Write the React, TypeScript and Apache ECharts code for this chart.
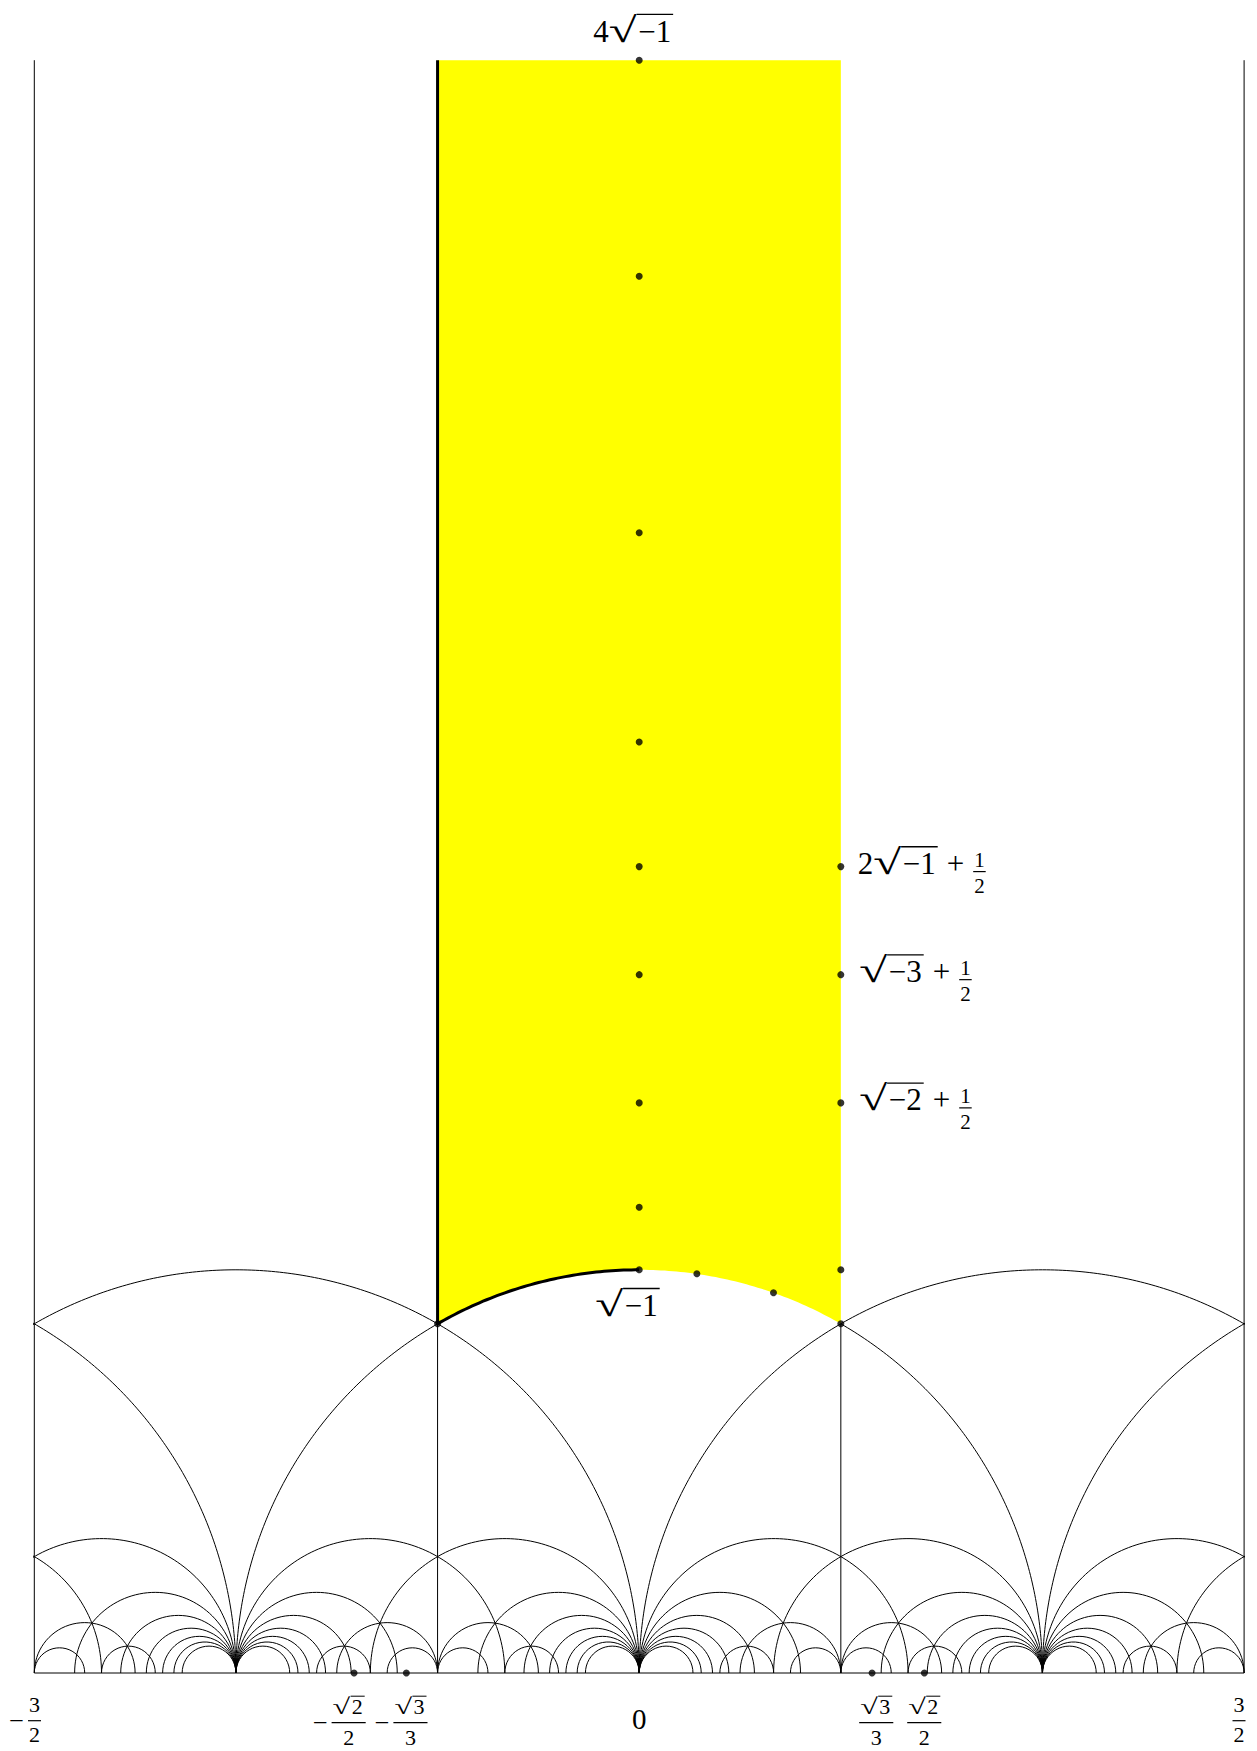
import React, { useEffect, useRef } from "react";
import * as echarts from "echarts";

const PAGE_W = 1257;
const PAGE_H = 1751;

// plotting window (upper half-plane)
const X_MIN = -1.5;
const X_MAX = 1.5;
const Y_MIN = 0;
const Y_MAX = 4;

// tessellation geodesics, given by their end points on the real axis
const INTEGER_CUSPS = [-2, -1, 0, 1, 2];
const INTEGER_CUSP_SPANS = [2, 2 / 3, 2 / 5, 2 / 7, 2 / 9, 2 / 11, 2 / 13, 2 / 15];
const HALF_CUSPS = [-1.5, -0.5, 0.5, 1.5];
const HALF_CUSP_SPANS = [1 / 4, 1 / 8];
const PERIOD_SHIFTS = [-2, -1, 0, 1];
const SMALL_ARCS = [
  [1 / 3, 1 / 5],
  [2 / 3, 4 / 5],
];
// vertical geodesics: [x, top]
const VERTICAL_LINES = [
  [-1.5, 4],
  [-0.5, 0.866],
  [0.5, 0.866],
  [1.5, 4],
];

// marked points
const IMAG_AXIS_DOTS = [4, 3.464, 2.828, 2.309, 2, 1.732, 1.414, 1.155, 1];
const HALF_LINE_DOTS = [2, 1.732, 1.414, 1, 0.866];
const ARC_DOTS = [
  [0.143, 0.99],
  [0.333, 0.943],
];
const CORNER_DOTS = [[-0.5, 0.866]];
const REAL_AXIS_DOTS = [-0.7071, -0.5774, 0.5774, 0.7071];

// tick-like labels under the real axis
const AXIS_LABELS = [
  { x: -1.5, neg: true, num: "3", den: "2", root: false, dx: 0.2 },
  { x: -0.7071, neg: true, num: "2", den: "2", root: true, dx: -5.4 },
  { x: -0.5774, neg: true, num: "3", den: "3", root: true, dx: 4.1 },
  { x: 0.5774, neg: false, num: "3", den: "3", root: true, dx: 4.2 },
  { x: 0.7071, neg: false, num: "2", den: "2", root: true, dx: -0.1 },
  { x: 1.5, neg: false, num: "3", den: "2", root: false, dx: -5.1 },
];

const FONT_FAMILY = "Liberation Serif";

// ---------- text measuring / math layout ----------
let measureCtx: CanvasRenderingContext2D | null = null;
function measure(s: string, size: number): TextMetrics {
  if (!measureCtx) measureCtx = document.createElement("canvas").getContext("2d");
  measureCtx!.font = `${size}px "${FONT_FAMILY}"`;
  return measureCtx!.measureText(s);
}
function centralOffset(size: number): number {
  const t = measure("0", size);
  const a = (t as any).fontBoundingBoxAscent;
  const d = (t as any).fontBoundingBoxDescent;
  if (a == null || isNaN(a)) return 0.3375 * size;
  return (a - d) / 2;
}

function textEl(s: string, x: number, b: number, size: number, align = "left", scaleX = 1) {
  return {
    type: "text",
    x,
    y: b - centralOffset(size),
    scaleX,
    silent: true,
    z: 100,
    style: {
      text: s,
      fontSize: size,
      fontFamily: FONT_FAMILY,
      fontWeight: "normal",
      fill: "#000",
      align,
      textAlign: align,
      verticalAlign: "middle",
      textVerticalAlign: "middle",
    },
  };
}
function lineEl(x1: number, y1: number, x2: number, y2: number, w: number) {
  return {
    type: "line",
    silent: true,
    z: 100,
    shape: { x1, y1, x2, y2 },
    style: { stroke: "#000", lineWidth: w },
  };
}

type MNode =
  | { k: "t"; s: string; size: number }
  | { k: "gap"; w: number }
  | { k: "sqrt"; s: string; size: number; rise: number; radW: number }
  | {
      k: "frac";
      num: MNode[];
      den: MNode[];
      barUp: number;
      numDrop: number;
      denDrop: number;
      pad: number;
    };

const T = (s: string, size: number): MNode => ({ k: "t", s, size });
const GAP = (w: number): MNode => ({ k: "gap", w });
const SQRT = (s: string, size: number, rise = 0.92, radW = 0.9): MNode => ({ k: "sqrt", s, size, rise, radW });

function radGeom(size: number, rise: number, radW: number) {
  const a = measure("√", size).actualBoundingBoxAscent || 0.75 * size;
  const rs = (rise * size * size) / a;
  const m = measure("√", rs);
  const sx = (radW * size) / m.width;
  return { rs, m, sx, w: radW * size };
}

function nodeWidth(n: MNode): number {
  if (n.k === "t") return measure(n.s, n.size).width;
  if (n.k === "gap") return n.w;
  if (n.k === "sqrt") {
    const g = radGeom(n.size, n.rise, n.radW);
    return g.w + 1.5 + measure(n.s, n.size).width + 2;
  }
  return Math.max(rowWidth(n.num), rowWidth(n.den)) + 2 * n.pad;
}
function rowWidth(nodes: MNode[]) {
  return nodes.reduce((acc, n) => acc + nodeWidth(n), 0);
}
function drawNode(n: MNode, x: number, b: number, out: any[]) {
  if (n.k === "t") {
    out.push(textEl(n.s, x, b, n.size));
  } else if (n.k === "sqrt") {
    const g = radGeom(n.size, n.rise, n.radW);
    out.push(textEl("√", x, b, g.rs, "left", g.sx));
    const lw = Math.max(1, n.size * 0.045);
    const top = b - g.m.actualBoundingBoxAscent + lw / 2;
    const rx = x + g.w + 1.5;
    out.push(textEl(n.s, rx, b, n.size));
    out.push(
      lineEl(x + g.m.actualBoundingBoxRight * g.sx - lw * 0.7, top, rx + measure(n.s, n.size).width + 2, top, lw)
    );
  } else if (n.k === "frac") {
    const w = nodeWidth(n);
    const barY = b - n.barUp;
    out.push(lineEl(x, barY, x + w, barY, 1.2));
    const wn = rowWidth(n.num);
    const wd = rowWidth(n.den);
    drawRow(n.num, x + (w - wn) / 2, barY - n.numDrop, out);
    drawRow(n.den, x + (w - wd) / 2, barY + n.denDrop, out);
  }
}
function drawRow(nodes: MNode[], x: number, b: number, out: any[]) {
  let cx = x;
  nodes.forEach((n) => {
    drawNode(n, cx, b, out);
    cx += nodeWidth(n);
  });
}

const MAIN = 31;
const HALF_FRAC = (): MNode => ({
  k: "frac",
  num: [T("1", 21)],
  den: [T("2", 21)],
  barUp: 2.5,
  numDrop: 5,
  denDrop: 21.5,
  pad: 1,
});

const POINT_LABELS: { at: number[]; align: string; dx: number; dy: number; nodes: () => MNode[] }[] = [
  { at: [0, 4], align: "center", dx: -6, dy: -18.5, nodes: () => [T("4", MAIN), SQRT("−1", MAIN)] },
  { at: [0, 1], align: "center", dx: -11.7, dy: 46, nodes: () => [SQRT("−1", MAIN)] },
  {
    at: [0.5, 2],
    align: "left",
    dx: 17,
    dy: 7.5,
    nodes: () => [T("2", MAIN), SQRT("−1", MAIN), GAP(9), T("+", MAIN), GAP(9), HALF_FRAC()],
  },
  {
    at: [0.5, 1.732],
    align: "left",
    dx: 18.5,
    dy: 7.5,
    nodes: () => [SQRT("−3", MAIN), GAP(9), T("+", MAIN), GAP(9), HALF_FRAC()],
  },
  {
    at: [0.5, 1.414],
    align: "left",
    dx: 18.5,
    dy: 7.5,
    nodes: () => [SQRT("−2", MAIN), GAP(9), T("+", MAIN), GAP(9), HALF_FRAC()],
  },
];

function buildLabels(toPx: (p: number[]) => number[]) {
  const out: any[] = [];
  POINT_LABELS.forEach((L) => {
    const [ax, ay] = toPx(L.at);
    const nodes = L.nodes();
    const w = rowWidth(nodes);
    const x = L.align === "center" ? ax + L.dx - w / 2 : ax + L.dx;
    drawRow(nodes, x, ay + L.dy, out);
  });
  // real-axis labels
  AXIS_LABELS.forEach((L) => {
    const [ax, ay] = toPx([L.x, 0]);
    const size = 22;
    const frac: MNode = {
      k: "frac",
      num: [L.root ? SQRT(L.num, size, 0.83, 0.8) : T(L.num, size)],
      den: [T(L.den, size)],
      barUp: 0,
      numDrop: 9,
      denDrop: L.root ? 22.3 : 21,
      pad: 1,
    };
    const w = nodeWidth(frac);
    const barY = ay + (L.root ? 49.7 : 47.7);
    const left = ax + L.dx - w / 2;
    drawNode(frac, left, barY, out);
    if (L.neg) {
      const mm = measure("−", size);
      const b = barY + (mm.actualBoundingBoxAscent - mm.actualBoundingBoxDescent) / 2;
      out.push(textEl("−", left - 4, b, size, "right", 1.2));
    }
  });
  const [zx, zy] = toPx([0, 0]);
  out.push(textEl("0", zx - measure("0", 29).width / 2, zy + 46 + 0.338 * 29, 29));
  return out;
}

// ---------- geometry of the picture ----------
type Arc = { c: number; r: number; t0: number; t1: number };

function buildArcs(): Arc[] {
  const arcs: Arc[] = [];
  const seen = new Set<string>();
  const addGeodesic = (a: number, b: number) => {
    const lo = Math.min(a, b);
    const hi = Math.max(a, b);
    if (hi <= X_MIN + 1e-9 || lo >= X_MAX - 1e-9) return;
    const c = (lo + hi) / 2;
    const r = (hi - lo) / 2;
    const key = c.toFixed(6) + "_" + r.toFixed(6);
    if (seen.has(key)) return;
    seen.add(key);
    if (Math.abs(c) < 1e-9 && Math.abs(r - 1) < 1e-9) {
      // unit circle: the part bounding the fundamental domain is drawn separately
      arcs.push({ c, r, t0: 0, t1: Math.PI / 3 });
      arcs.push({ c, r, t0: (2 * Math.PI) / 3, t1: Math.PI });
    } else {
      arcs.push({ c, r, t0: 0, t1: Math.PI });
    }
  };
  INTEGER_CUSPS.forEach((n) =>
    INTEGER_CUSP_SPANS.forEach((d) => {
      addGeodesic(n, n + d);
      addGeodesic(n, n - d);
    })
  );
  HALF_CUSPS.forEach((h) =>
    HALF_CUSP_SPANS.forEach((d) => {
      addGeodesic(h, h + d);
      addGeodesic(h, h - d);
    })
  );
  PERIOD_SHIFTS.forEach((s) => SMALL_ARCS.forEach(([a, b]) => addGeodesic(s + a, s + b)));
  return arcs;
}

function sampleArc(c: number, r: number, t0: number, t1: number): number[][] {
  const n = Math.max(24, Math.ceil((r * 320 * Math.abs(t1 - t0)) / Math.PI));
  const pts: number[][] = [];
  for (let i = 0; i <= n; i++) {
    const t = t0 + ((t1 - t0) * i) / n;
    pts.push([c + r * Math.cos(t), r * Math.sin(t)]);
  }
  return pts;
}

function buildOption() {
  const lineBase = {
    type: "line",
    symbol: "none",
    showSymbol: false,
    silent: true,
    animation: false,
  };

  const arcSeries = buildArcs().map((a) => ({
    ...lineBase,
    clip: true,
    z: 3,
    lineStyle: { color: "#000", width: 1 },
    data: sampleArc(a.c, a.r, a.t0, a.t1),
  }));

  const verticalSeries = VERTICAL_LINES.map(([x, top]) => ({
    ...lineBase,
    clip: false,
    z: 3,
    lineStyle: { color: "#000", width: 1 },
    data: [
      [x, Y_MIN],
      [x, top],
    ],
  }));

  const baseline = {
    ...lineBase,
    clip: false,
    z: 3,
    lineStyle: { color: "#000", width: 1 },
    data: [
      [X_MIN, 0],
      [X_MAX, 0],
    ],
  };

  const domain = [
    [-0.5, Y_MAX],
    ...sampleArc(0, 1, (2 * Math.PI) / 3, Math.PI / 3),
    [0.5, Y_MAX],
  ];

  const yellow = {
    type: "custom",
    coordinateSystem: "cartesian2d",
    silent: true,
    clip: false,
    z: 1,
    data: [[0, 0]],
    renderItem: (_params: any, api: any) => ({
      type: "polygon",
      shape: { points: domain.map((p) => api.coord(p)) },
      style: { fill: "#ffff00", stroke: "none" },
    }),
  };

  const boundary = {
    ...lineBase,
    clip: false,
    z: 5,
    lineStyle: { color: "#000", width: 3, cap: "butt", join: "round" },
    data: [[-0.5, Y_MAX], ...sampleArc(0, 1, (2 * Math.PI) / 3, Math.PI / 2)],
  };

  const dots = [
    ...IMAG_AXIS_DOTS.map((y) => [0, y]),
    ...HALF_LINE_DOTS.map((y) => [0.5, y]),
    ...ARC_DOTS,
    ...CORNER_DOTS,
    ...REAL_AXIS_DOTS.map((x) => [x, 0]),
  ];

  const dotSeries = {
    type: "scatter",
    silent: true,
    clip: false,
    z: 10,
    symbol: "circle",
    symbolSize: 7,
    itemStyle: { color: "#000" },
    data: dots,
  };

  return {
    animation: false,
    backgroundColor: "#ffffff",
    textStyle: { fontFamily: FONT_FAMILY },
    grid: { left: 34.3, top: 60.2, width: 1209.8, height: 1612.8, containLabel: false },
    xAxis: { type: "value", min: X_MIN, max: X_MAX, show: false },
    yAxis: { type: "value", min: Y_MIN, max: Y_MAX, show: false },
    series: [yellow, ...arcSeries, ...verticalSeries, baseline, boundary, dotSeries],
  };
}

export default function App() {
  const ref = useRef<HTMLDivElement>(null);
  useEffect(() => {
    if (!ref.current) return;
    const chart = echarts.init(ref.current, null, { renderer: "svg" });
    chart.setOption(buildOption() as any);
    const toPx = (p: number[]) => chart.convertToPixel({ gridIndex: 0 }, p) as unknown as number[];
    chart.setOption({ graphic: { elements: buildLabels(toPx) } } as any);
    return () => chart.dispose();
  }, []);
  return (
    <div
      ref={ref}
      style={{ position: "absolute", left: 0, top: 0, width: PAGE_W, height: PAGE_H, background: "#fff" }}
    />
  );
}
